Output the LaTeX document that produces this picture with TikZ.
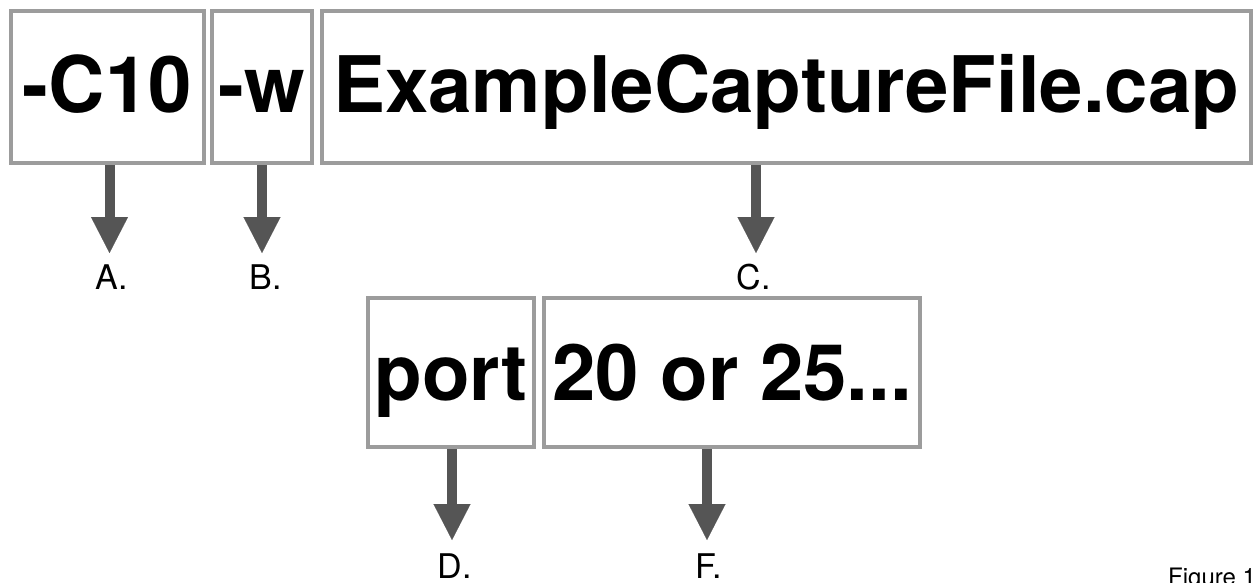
\documentclass[tikz,border=0pt]{standalone}
\usepackage{fontspec}
\setmainfont{TeX Gyre Heros}
\usetikzlibrary{arrows.meta}
\definecolor{boxline}{HTML}{9C9C9C}
\definecolor{arrowgray}{HTML}{555555}
\tikzset{
  optbox/.style={draw=boxline, line width=4pt, fill=white, inner sep=0pt,
    font=\fontsize{78}{78}\bfseries\selectfont, text height=60pt, text depth=8pt},
  pointer/.style={draw=arrowgray, line width=10pt,
    -{Triangle[width=37pt,length=36pt,line width=0.1pt]}},
  tag/.style={anchor=base west, inner sep=0pt, font=\fontsize{34}{34}\selectfont},
  caption/.style={anchor=base west, inner sep=0pt, font=\fontsize{24}{24}\selectfont}
}
\begin{document}
\begin{tikzpicture}[x=1pt,y=-1pt]
  \useasboundingbox (0,0) rectangle (1255,583);
  \clip (0,0) rectangle (1255,583);
  \fill[white] (0,0) rectangle (1255,583);

  % option boxes, top row
  \node[optbox, minimum width=193.5pt, minimum height=152pt] (c10) at (107.25,87) {-C10};
  \node[optbox, minimum width=100pt, minimum height=152pt] (w) at (262,87) {-w};
  \node[optbox, minimum width=929pt, minimum height=152pt] (file) at (786.5,87) {ExampleCaptureFile.cap};

  % option boxes, second row
  \node[optbox, minimum width=166pt, minimum height=149pt, text height=61pt, text depth=6pt] (port) at (451,372.5) {port};
  \node[optbox, minimum width=376pt, minimum height=149pt, text height=61pt, text depth=6pt] (num) at (732,372.5) {20 or 25...};

  % arrow tips
  \coordinate (tA) at (109.5,253);
  \coordinate (tB) at (262,253);
  \coordinate (tC) at (756,253);
  \coordinate (tD) at (452,540);
  \coordinate (tF) at (707,540);

  \draw[pointer] (tA |- c10.south) -- (tA);
  \draw[pointer] (tB |- w.south) -- (tB);
  \draw[pointer] (tC |- file.south) -- (tC);
  \draw[pointer] (tD |- port.south) -- (tD);
  \draw[pointer] (tF |- num.south) -- (tF);

  % letter tags
  \node[tag] (la) at (95,289) {A.};
  \node[tag] (lb) at (249.5,289) {B.};
  \node[tag] (lc) at (736.5,289) {C.};
  \node[tag] (ld) at (437.5,578) {D.};
  \node[tag] (lf) at (695.5,578) {F.};

  \node[caption] (fig) at (1168,585) {Figure 1};
\end{tikzpicture}
\end{document}
